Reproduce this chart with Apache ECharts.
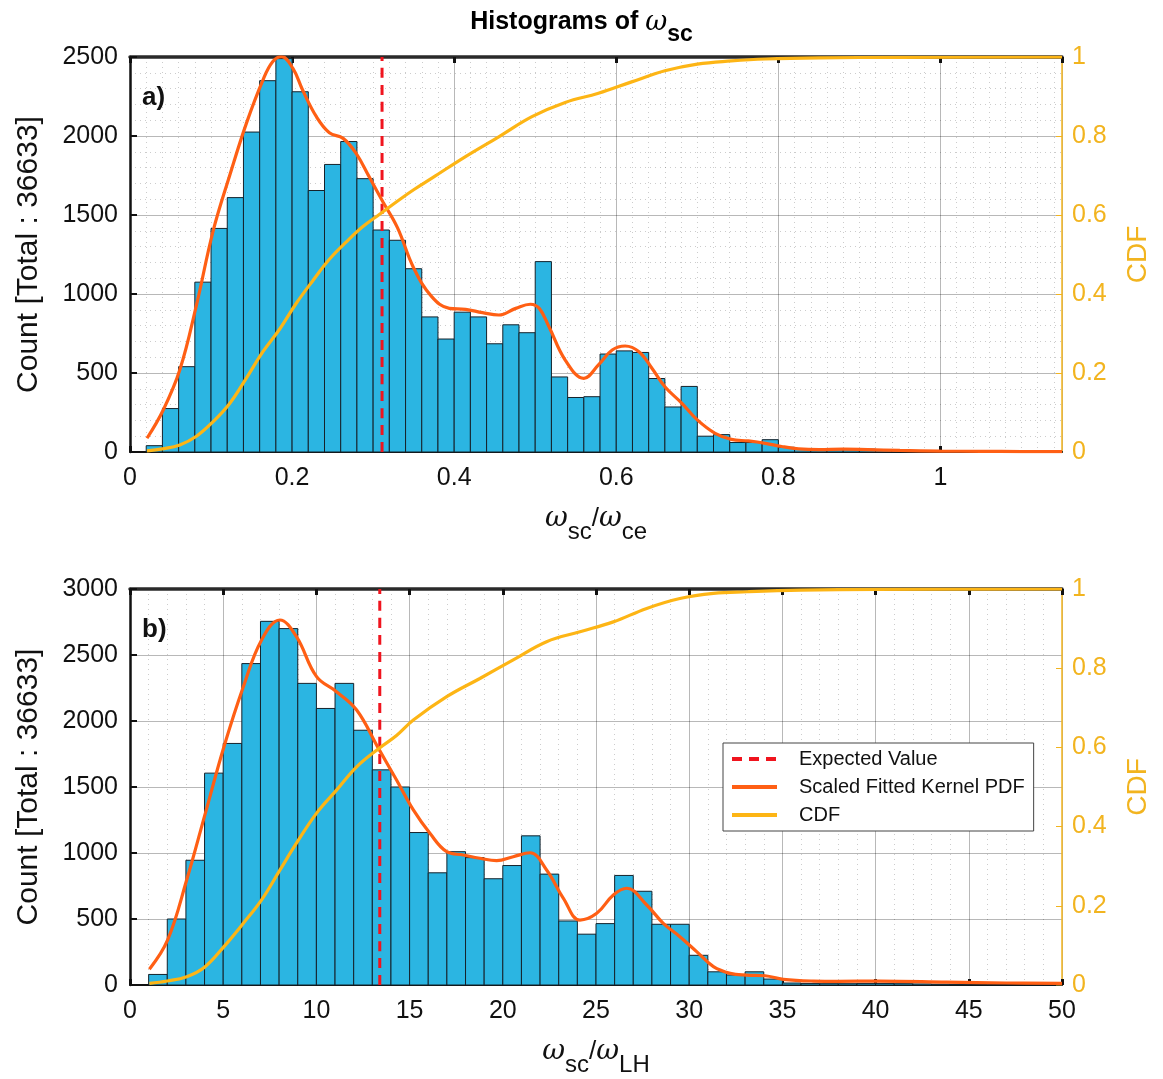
<!DOCTYPE html>
<html><head><meta charset="utf-8">
<script src="https://cdn.jsdelivr.net/npm/echarts@6/dist/echarts.min.js"></script>
<style>html,body{margin:0;padding:0;background:#fff}#c{width:1163px;height:1079px}</style>
</head><body><div id="c"></div><script>
// ---- data ----
const topBinStart = 0.02, topBinWidth = 0.02;
const topCounts = [40,275,540,1075,1415,1610,2025,2350,2490,2280,1655,1820,1965,1730,1405,1340,1160,855,715,885,
  855,685,805,755,1205,475,345,350,620,640,630,465,285,415,100,110,60,60,78,30,22,18,20,22,18,14,10,8,6,5,4,3,3,2,2,1];
const botBinStart = 1, botBinWidth = 1;
const botCounts = [80,500,945,1605,1830,2435,2755,2700,2285,2095,2285,1930,1630,1500,1155,850,1010,965,805,905,
  1130,840,485,385,465,830,710,460,460,225,100,76,100,45,15,12,10,10,12,12,10,8,6,5,4,3,3,2,2];
const topKernel = [[0.021,87],[0.041,266],[0.0615,520],[0.082,930],[0.1026,1400],[0.123,1750],[0.1436,2080],[0.164,2354],
  [0.176,2470],[0.187,2502],[0.201,2428],[0.213,2291],[0.23,2122],[0.246,2021],[0.263,1985],[0.279,1890],[0.295,1743],
  [0.312,1584],[0.33,1420],[0.35,1165],[0.372,985],[0.394,909],[0.414,903],[0.435,882],[0.455,867],[0.476,909],[0.494,935],
  [0.505,909],[0.517,793],[0.537,582],[0.56,466],[0.578,551],[0.595,646],[0.611,671],[0.628,635],[0.644,530],[0.66,413],
  [0.681,308],[0.70,203],[0.722,118],[0.742,80],[0.763,70],[0.784,55],[0.804,35],[0.825,20],[0.85,15],[0.88,18],[0.91,15],
  [0.95,10],[1.0,6],[1.05,4],[1.1,3],[1.15,2]];
const topCdf = [[0.021,0.003],[0.04,0.008],[0.0615,0.018],[0.082,0.04],[0.1026,0.077],[0.123,0.123],[0.1436,0.187],
  [0.164,0.254],[0.185,0.312],[0.205,0.376],[0.226,0.435],[0.246,0.488],[0.267,0.532],[0.287,0.57],[0.308,0.602],
  [0.332,0.638],[0.35,0.664],[0.373,0.694],[0.414,0.748],[0.455,0.798],[0.496,0.849],[0.537,0.885],[0.578,0.908],
  [0.619,0.937],[0.66,0.965],[0.70,0.982],[0.742,0.99],[0.784,0.995],[0.85,0.998],[0.95,0.999],[1.15,1.0]];
const botKernel = [[1.04,119],[2.02,341],[3.04,795],[4.04,1300],[5.04,1805],[6.08,2260],[7.06,2614],[8.04,2765],[8.93,2639],
  [10.01,2336],[11.08,2222],[12.16,2083],[13.3,1800],[14.3,1553],[15.2,1326],[16.09,1149],[16.99,1010],[17.88,985],
  [18.77,960],[19.67,942],[20.56,972],[21.46,1002],[22.35,871],[23.25,657],[24.14,492],[25.04,543],[25.93,682],[26.65,733],
  [27.72,606],[28.61,467],[29.5,366],[30.4,253],[31.3,139],[32.2,88],[33.1,75],[34.07,70],[35.05,43],[36.66,30],[38,28],
  [40.2,30],[43.8,22],[47,15],[50,12]];
const botCdf = [[1.04,0.004],[2,0.01],[3.04,0.021],[4,0.045],[5.04,0.097],[6.08,0.156],[7.06,0.215],[8.04,0.29],[8.93,0.358],
  [10.01,0.434],[11.08,0.492],[12.16,0.551],[13.37,0.598],[14.3,0.63],[15.2,0.669],[16.99,0.728],[18.77,0.774],[20.56,0.821],
  [22.35,0.867],[24.14,0.892],[25.93,0.917],[27.72,0.951],[29.5,0.976],[31.3,0.989],[33.1,0.993],[36,0.997],[40,0.999],[50,1]];
const topExpected = 0.311;
const botExpected = 13.4;
const topXRange = {min:0, max:1.15, interval:0.2, minorSplit:10};
const topYRange = {min:0, max:2500, interval:500};
const botXRange = {min:0, max:50, interval:5, minorSplit:5};
const botYRange = {min:0, max:3000, interval:500};
const cdfRange = {min:0, max:1, interval:0.2};
const seriesNames = ['Expected Value','Scaled Fitted Kernel PDF','CDF'];

// ---- styling ----
const FONT = 'Liberation Sans, Arial, Helvetica, sans-serif';
const C_BAR = '#2BB5E2', C_KDE = '#FF5F14', C_CDF = '#FDB515', C_EXP = '#F0141E', C_AXR = '#F2B41F';
const plain = v => String(v);

function histData(start, w, counts){ return counts.map((c,i)=>[start+i*w, start+(i+1)*w, c]); }
function histSeries(xi, yi, data){
  return {type:'custom', xAxisIndex:xi, yAxisIndex:yi, data:data, encode:{x:[0,1], y:2}, z:2,
    renderItem:function(params, api){
      const a = api.coord([api.value(0), api.value(2)]);
      const b = api.coord([api.value(1), 0]);
      return {type:'rect', shape:{x:a[0], y:a[1], width:b[0]-a[0], height:b[1]-a[1]},
        style:{fill:C_BAR, stroke:'#15222b', lineWidth:1}};
    }};
}
function makeBottomX(grid, r, name){
  return {type:'value', gridIndex:grid, position:'bottom', min:r.min, max:r.max, interval:r.interval,
    name:name, nameLocation:'middle', nameGap:42,
    nameTextStyle:{rich:{
      w:{fontSize:28, fontStyle:'italic', fontFamily:'DejaVu Serif', color:'#111'},
      s:{fontSize:24, fontFamily:FONT, color:'#111', padding:[26,0,0,0]},
      n:{fontSize:26, fontFamily:FONT, color:'#111'}}},
    axisLine:{show:true, onZero:false, lineStyle:{color:'#111', width:2}},
    axisTick:{show:true, inside:true, length:6, lineStyle:{color:'#111', width:3}},
    axisLabel:{show:true, margin:14, fontSize:25, color:'#111', fontFamily:FONT, formatter:plain,
      showMaxLabel: Math.abs(r.max / r.interval - Math.round(r.max / r.interval)) < 1e-9},
    splitLine:{show:true, lineStyle:{color:'rgba(0,0,0,0.28)', width:1}},
    minorTick:{show:false, splitNumber:r.minorSplit},
    minorSplitLine:{show:true, lineStyle:{color:'rgba(0,0,0,0.2)', width:1, type:[1,4]}}
  };
}
function makeTopX(grid, r){
  return {type:'value', gridIndex:grid, position:'top', min:r.min, max:r.max, interval:r.interval,
    axisLine:{show:true, onZero:false, lineStyle:{color:'#2a2a2a', width:3.5}},
    axisTick:{show:true, inside:true, length:6, lineStyle:{color:'#111', width:3}},
    axisLabel:{show:false}, splitLine:{show:false}};
}
function makeLeftY(grid, r, minor){
  return {type:'value', gridIndex:grid, position:'left', min:r.min, max:r.max, interval:r.interval,
    name:'Count [Total : 36633]', nameLocation:'middle', nameGap:86,
    nameTextStyle:{fontSize:30, color:'#111', fontFamily:FONT},
    axisLine:{show:true, onZero:false, lineStyle:{color:'#111', width:2.5}},
    axisTick:{show:true, inside:true, length:7, lineStyle:{color:'#111', width:2}},
    axisLabel:{margin:12, fontSize:25, color:'#111', fontFamily:FONT, formatter:plain},
    splitLine:{show:true, lineStyle:{color:'rgba(0,0,0,0.28)', width:1}},
    minorTick:{show:false, splitNumber:5},
    minorSplitLine:{show:minor, lineStyle:{color:'rgba(0,0,0,0.2)', width:1, type:[1,4]}}
  };
}
function makeRightY(grid, r){
  return {type:'value', gridIndex:grid, position:'right', min:r.min, max:r.max, interval:r.interval,
    name:'CDF', nameLocation:'middle', nameGap:62, nameRotate:90,
    nameTextStyle:{fontSize:28, color:C_AXR, fontFamily:FONT},
    axisLine:{show:true, onZero:false, lineStyle:{color:C_AXR, width:1.5}},
    axisTick:{show:true, inside:true, length:6, lineStyle:{color:C_AXR, width:1}},
    axisLabel:{margin:10, fontSize:25, color:C_AXR, fontFamily:FONT, formatter:plain},
    splitLine:{show:false}};
}
function lineS(name, xi, yi, data, color, width, type, z){
  return {type:'line', name:name, xAxisIndex:xi, yAxisIndex:yi, data:data, smooth:0.4, symbol:'none',
    lineStyle:{color:color, width:width, type:type||'solid'}, itemStyle:{color:color}, z:z};
}

const xName = '{w|ω}{s|sc}{n|/}{w|ω}';
const chart = echarts.init(document.getElementById('c'), null, {renderer:'canvas'});
chart.setOption({
  animation:false,
  backgroundColor:'#fff',
  title:[
    {text:'{b|Histograms of }{w|ω}{s|sc}', left:'center', top:-6,
      textStyle:{rich:{
        b:{fontSize:25, fontWeight:'bold', color:'#000', fontFamily:FONT},
        w:{fontSize:27, fontStyle:'italic', fontWeight:'normal', fontFamily:'DejaVu Serif', color:'#000'},
        s:{fontSize:23, fontWeight:'bold', color:'#000', fontFamily:FONT, padding:[24,0,0,0]}}}},
    {text:'a)', left:137, top:80, textStyle:{fontSize:26, fontWeight:'bold', color:'#111', fontFamily:FONT}},
    {text:'b)', left:137, top:612, textStyle:{fontSize:26, fontWeight:'bold', color:'#111', fontFamily:FONT}}
  ],
  grid:[
    {left:130, right:101, top:57, height:395},
    {left:130, right:101, top:589, height:396}
  ],
  legend:{data:seriesNames, orient:'vertical', left:723, top:743,
    padding:[6,9,6,7], itemGap:8, itemWidth:45, itemHeight:18,
    itemStyle:{opacity:0}, lineStyle:{width:4},
    backgroundColor:'#fff', borderColor:'#444', borderWidth:1,
    textStyle:{fontSize:20, color:'#111', fontFamily:FONT, padding:[0,0,0,17]}},
  xAxis:[
    makeBottomX(0, topXRange, xName + '{s|ce}'),
    makeTopX(0, topXRange),
    makeBottomX(1, botXRange, xName + '{s|LH}'),
    makeTopX(1, botXRange)
  ],
  yAxis:[ makeLeftY(0, topYRange, true), makeRightY(0, cdfRange), makeLeftY(1, botYRange, false), makeRightY(1, cdfRange) ],
  series:[
    histSeries(0, 0, histData(topBinStart, topBinWidth, topCounts)),
    lineS(seriesNames[0], 0, 0, [[topExpected, topYRange.min],[topExpected, topYRange.max]], C_EXP, 3, [10,7], 3),
    lineS(seriesNames[1], 0, 0, topKernel, C_KDE, 3.2, 'solid', 4),
    lineS(seriesNames[2], 1, 1, topCdf, C_CDF, 3.2, 'solid', 5),
    histSeries(2, 2, histData(botBinStart, botBinWidth, botCounts)),
    lineS(seriesNames[0], 2, 2, [[botExpected, botYRange.min],[botExpected, botYRange.max]], C_EXP, 3, [10,7], 3),
    lineS(seriesNames[1], 2, 2, botKernel, C_KDE, 3.2, 'solid', 4),
    lineS(seriesNames[2], 3, 3, botCdf, C_CDF, 3.2, 'solid', 5)
  ]
});
</script></body></html>
